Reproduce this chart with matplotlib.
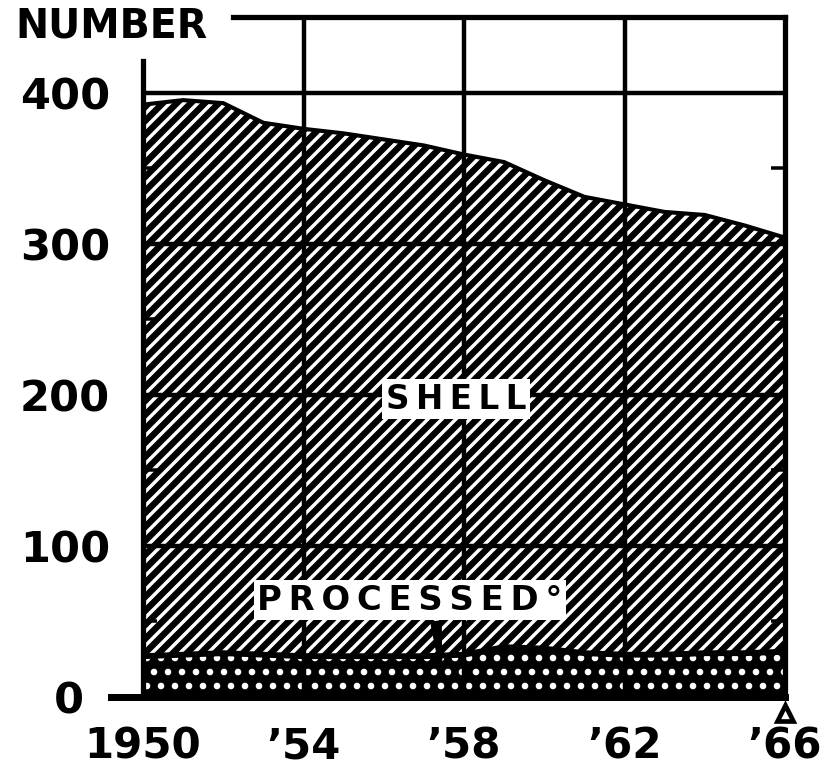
import matplotlib.pyplot as plt
from matplotlib.transforms import ScaledTranslation

years = list(range(1950, 1967))
total = [392, 395, 393, 380, 376, 373, 369, 365, 359, 354, 342, 331, 326, 321, 319, 312, 304]
processed = [27, 28, 29, 28, 27, 27, 27, 27, 28, 33, 32, 29, 28, 28, 29, 29, 30]
xticks = [1950, 1954, 1958, 1962, 1966]
xlabels = ['1950', '\u201954', '\u201958', '\u201962', '\u201966']
yticks = [0, 100, 200, 300, 400]

DPI = 84
plt.rcParams['font.family'] = 'DejaVu Sans'
plt.rcParams['hatch.linewidth'] = 5.5

fig = plt.figure(figsize=(823 / DPI, 778 / DPI), dpi=DPI)
ax = fig.add_axes([143 / 823, 81 / 778, 642 / 823, 680 / 778])

# shell (hatched) area
ax.fill_between(years, processed, total, facecolor='white', edgecolor='black',
                hatch='//', linewidth=0, zorder=1)
# processed (white dots on black) area
plt.rcParams['hatch.linewidth'] = 3.2
dots = ax.fill_between(years, 0, processed, facecolor='black', edgecolor='white',
                       hatch='.', linewidth=0, zorder=1)
if hasattr(dots, 'set_hatch_linewidth'):
    dots.set_hatch_linewidth(3.2)
ax.plot(years, total, color='black', lw=3.5, zorder=3)
ax.plot(years, processed, color='black', lw=5, zorder=3)

# grid
for v in yticks[1:]:
    ax.axhline(v, color='black', lw=3.8, zorder=2)
for x in xticks[1:-1]:
    ax.axvline(x, color='black', lw=3.8, zorder=2)

ax.set_xlim(1950, 1966)
ax.set_ylim(0, 450)

for s in ax.spines.values():
    s.set_linewidth(4.5)
ax.spines['left'].set_bounds(0, 421)
ax.spines['top'].set_bounds(1952.25, 1966)
ax.spines['bottom'].set_bounds(1949.2, 1966)
ax.spines['bottom'].set_linewidth(6)

ax.set_xticks(xticks)
ax.set_xticklabels(xlabels, fontsize=36, fontweight='bold')
ax.tick_params(axis='x', length=0, pad=24)
ax.set_yticks(yticks)
ax.set_yticklabels([str(v) for v in yticks], fontsize=37, fontweight='bold')
ax.tick_params(axis='y', length=0, pad=28)
ax.set_yticks([50, 150, 250, 350], minor=True)
ax.tick_params(axis='y', which='minor', direction='in', length=12, width=3,
               left=True, right=True)
ax.tick_params(axis='x', which='minor', bottom=False)

lbl0 = ax.get_yticklabels()[0]
lbl0.set_transform(lbl0.get_transform() + ScaledTranslation(-26 / DPI, 0, fig.dpi_scale_trans))

fig.text(15 / 823, 1 - 26 / 778, 'NUMBER', fontsize=34, fontweight='bold',
         ha='left', va='center')

ts = '\u2009'
box = dict(facecolor='white', edgecolor='none', pad=3)
ax.text(1957.8, 197, ts.join('SHELL'), fontsize=28, fontweight='bold', ha='center',
        va='center', bbox=box, zorder=5)
ax.text(1956.65, 64, ts.join('PROCESSED\u00b0'), fontsize=29, fontweight='bold',
        ha='center', va='center', bbox=box, zorder=5)
ax.annotate('', xy=(1957.45, 12), xytext=(1957.3, 50),
            arrowprops=dict(arrowstyle='wedge,tail_width=0.9', facecolor='black',
                            edgecolor='black', lw=1, shrinkA=0, shrinkB=0), zorder=6)

# triangle marker under the last year
ax.plot([years[-1]], [0], marker='^', ms=13, mfc='white', mec='black', mew=4,
        clip_on=False, zorder=6,
        transform=ax.transData + ScaledTranslation(0, -16 / DPI, fig.dpi_scale_trans))

fig.savefig('out.png', dpi=DPI)
